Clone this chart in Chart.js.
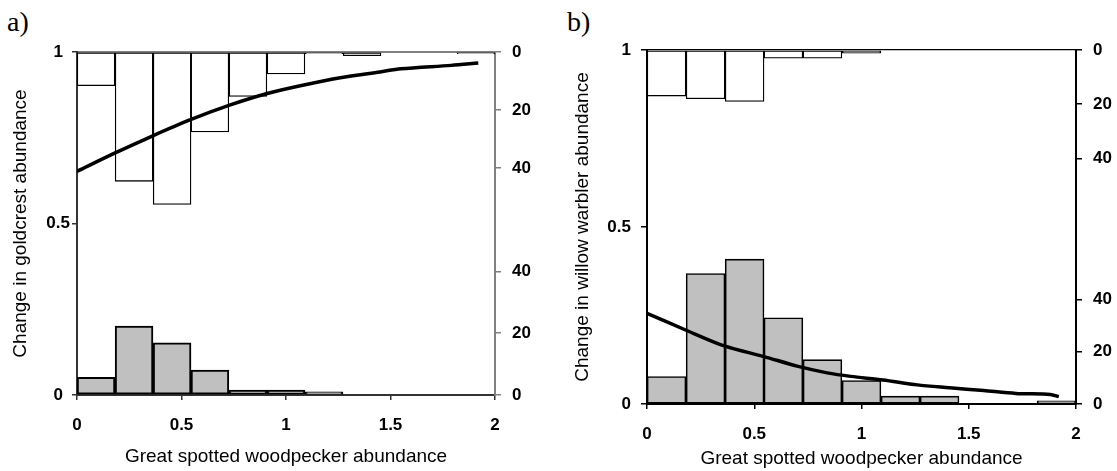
<!DOCTYPE html>
<html>
<head>
<meta charset="utf-8">
<script src="https://cdn.jsdelivr.net/npm/chart.js@4/dist/chart.umd.min.js"></script>
<style>
  body { margin: 0; background: #fff; width: 1117px; height: 471px; position: relative; overflow: hidden; }
  canvas { position: absolute; top: 0; }
  .panel-label { position: absolute; top: 8px; font-family: "Liberation Serif", "Times New Roman", serif; font-size: 28px; line-height: 1; color: #000; }
</style>
</head>
<body>
<div class="panel-label" style="left:7px">a)</div>
<div class="panel-label" style="left:567px">b)</div>
<canvas id="chartA" width="555" height="471" style="left:0"></canvas>
<canvas id="chartB" width="557" height="471" style="left:560px"></canvas>
<script>
// bins of great spotted woodpecker abundance (midpoints)
const binMids = [0.091, 0.273, 0.455, 0.636, 0.818, 1.0, 1.182, 1.364, 1.545, 1.727, 1.909];
const leftTicks = [0, 0.5, 1];
const countTicks = [0, 20, 40];

// a) goldcrest
const goldUpper = [11.6, 44.6, 52.6, 27.6, 15.3, 7.6, 0.6, 1.3, 0, 0, 0.6];
const goldLower = [5.7, 22.3, 16.9, 8.1, 1.6, 1.6, 1.0, 0, 0, 0, 0];
const goldCurveX = [0, 0.18, 0.36, 0.54, 0.73, 0.91, 1.08, 1.26, 1.45, 1.55, 1.79, 1.92];
const goldCurveY = [0.652, 0.705, 0.755, 0.802, 0.845, 0.879, 0.903, 0.925, 0.942, 0.951, 0.961, 0.968];

// b) willow warbler
const willowUpper = [17, 18, 19, 3, 3, 1.2, 0, 0, 0, 0, 0];
const willowLower = [10.5, 50, 55.5, 33, 17, 9, 3, 3, 0, 0, 1.2];
const willowCurveX = [0, 0.18, 0.36, 0.545, 0.70, 0.84, 0.95, 1.10, 1.26, 1.41, 1.57, 1.72, 1.88, 1.92];
const willowCurveY = [0.256, 0.209, 0.164, 0.134, 0.107, 0.088, 0.078, 0.068, 0.054, 0.046, 0.038, 0.030, 0.027, 0.021];

Chart.defaults.font.family = '"Liberation Sans", Arial, sans-serif';
Chart.defaults.color = '#000';

const tickFont = { size: 17, weight: 'bold' };
const titleFont = { size: 19 };

function toPoints(xs, ys) {
    return xs.map((x, i) => ({ x: x, y: ys[i] }));
}

function makePanel(canvasId, p) {
    const ctx = document.getElementById(canvasId).getContext("2d");
    const barCommon = { type: 'bar', xAxisID: 'x', grouped: false, barPercentage: 1, categoryPercentage: 1,
        borderSkipped: false, borderColor: '#000', order: 1 };
    const countAxis = {
        type: 'linear', position: 'right', min: 0,
        afterBuildTicks: s => { s.ticks = countTicks.map(v => ({ value: v })); },
        ticks: { font: tickFont, padding: p.rTickPad },
        grid: { display: true, drawOnChartArea: false, drawTicks: true, tickLength: 6, color: p.rightColor, lineWidth: 1.5 },
        border: { color: p.rightColor, width: 2 }
    };
    return new Chart(ctx, {
        type: 'bar',
        data: {
            datasets: [
                Object.assign({}, barCommon, {
                    label: 'upper', yAxisID: 'yTop', data: toPoints(binMids, p.upper),
                    backgroundColor: '#fff', borderWidth: 1.3
                }),
                Object.assign({}, barCommon, {
                    label: 'lower', yAxisID: 'yBot', data: toPoints(binMids, p.lower),
                    backgroundColor: '#c0c0c0', borderWidth: p.lowerBorder
                }),
                {
                    type: 'line', label: 'curve', xAxisID: 'x', yAxisID: 'y',
                    data: toPoints(p.curveX, p.curveY),
                    borderColor: '#000', borderWidth: 3.5, pointRadius: 0, tension: 0.3, order: 0
                }
            ]
        },
        options: {
            responsive: false,
            animation: false,
            layout: { padding: 0 },
            plugins: { legend: { display: false }, tooltip: { enabled: false } },
            scales: {
                x: {
                    type: 'linear', position: 'bottom', min: 0, max: 2, offset: false,
                    ticks: { stepSize: 0.5, font: tickFont, padding: 15, maxRotation: 0, callback: v => String(v) },
                    grid: { display: true, offset: false, drawOnChartArea: false, drawTicks: true, tickLength: 5, color: p.axisColor, lineWidth: 1.5 },
                    border: { color: p.axisColor, width: 2 },
                    title: { display: true, text: 'Great spotted woodpecker abundance', font: titleFont, padding: { top: 0, bottom: p.xTitlePad } },
                    afterFit: s => { s.height = p.bottom; }
                },
                xTop: {
                    type: 'linear', position: 'top', min: 0, max: 2, offset: false,
                    ticks: { display: false },
                    grid: { display: true, drawOnChartArea: false, drawTicks: false, color: p.rightColor },
                    border: { color: p.rightColor, width: p.topWidth },
                    afterFit: s => { s.height = p.top; }
                },
                y: {
                    type: 'linear', position: 'left', min: 0, max: 1,
                    afterBuildTicks: s => { s.ticks = leftTicks.map(v => ({ value: v })); },
                    ticks: { font: tickFont, padding: p.yTickPad, crossAlign: p.yCross, callback: v => String(v) },
                    grid: { display: true, drawOnChartArea: false, drawTicks: true, tickLength: p.yTickLen, color: p.axisColor, lineWidth: 1.5 },
                    border: { color: p.axisColor, width: 2 },
                    title: { display: true, text: p.yTitle, font: titleFont, padding: { top: p.yTitlePad, bottom: 0 } },
                    afterFit: s => { s.width = p.left; }
                },
                // top histogram counts, hanging down from the top edge
                yTop: Object.assign({}, countAxis, {
                    weight: 0, reverse: true, max: p.topMax,
                    afterFit: s => {
                        s.width = 0;
                        s._computeLabelArea = () => null; // zero-width box would clip its labels
                    }
                }),
                yBot: Object.assign({}, countAxis, {
                    weight: 1, max: p.botMax,
                    afterFit: s => { s.width = p.right; }
                })
            }
        }
    });
}

makePanel("chartA", {
    upper: goldUpper, lower: goldLower, curveX: goldCurveX, curveY: goldCurveY,
    yTitle: 'Change in goldcrest abundance',
    left: 77, right: 60, top: 52, bottom: 76,
    topMax: 118.3, botMax: 111,
    axisColor: '#333', rightColor: '#808080', topWidth: 2, lowerBorder: 2,
    xTitlePad: 3.2, yTickPad: 2, yTickLen: 5, yCross: 'center', yTitlePad: 9, rTickPad: 11
});

makePanel("chartB", {
    upper: willowUpper, lower: willowLower, curveX: willowCurveX, curveY: willowCurveY,
    yTitle: 'Change in willow warbler abundance',
    left: 87, right: 41, top: 50, bottom: 67,
    topMax: 130.6, botMax: 135.6,
    axisColor: '#000', rightColor: '#000', topWidth: 1.2, lowerBorder: 1.6,
    xTitlePad: 1.2, yTickPad: 10, yTickLen: 6, yCross: 'near', yTitlePad: 11, rTickPad: 11
});
</script>
</body>
</html>
